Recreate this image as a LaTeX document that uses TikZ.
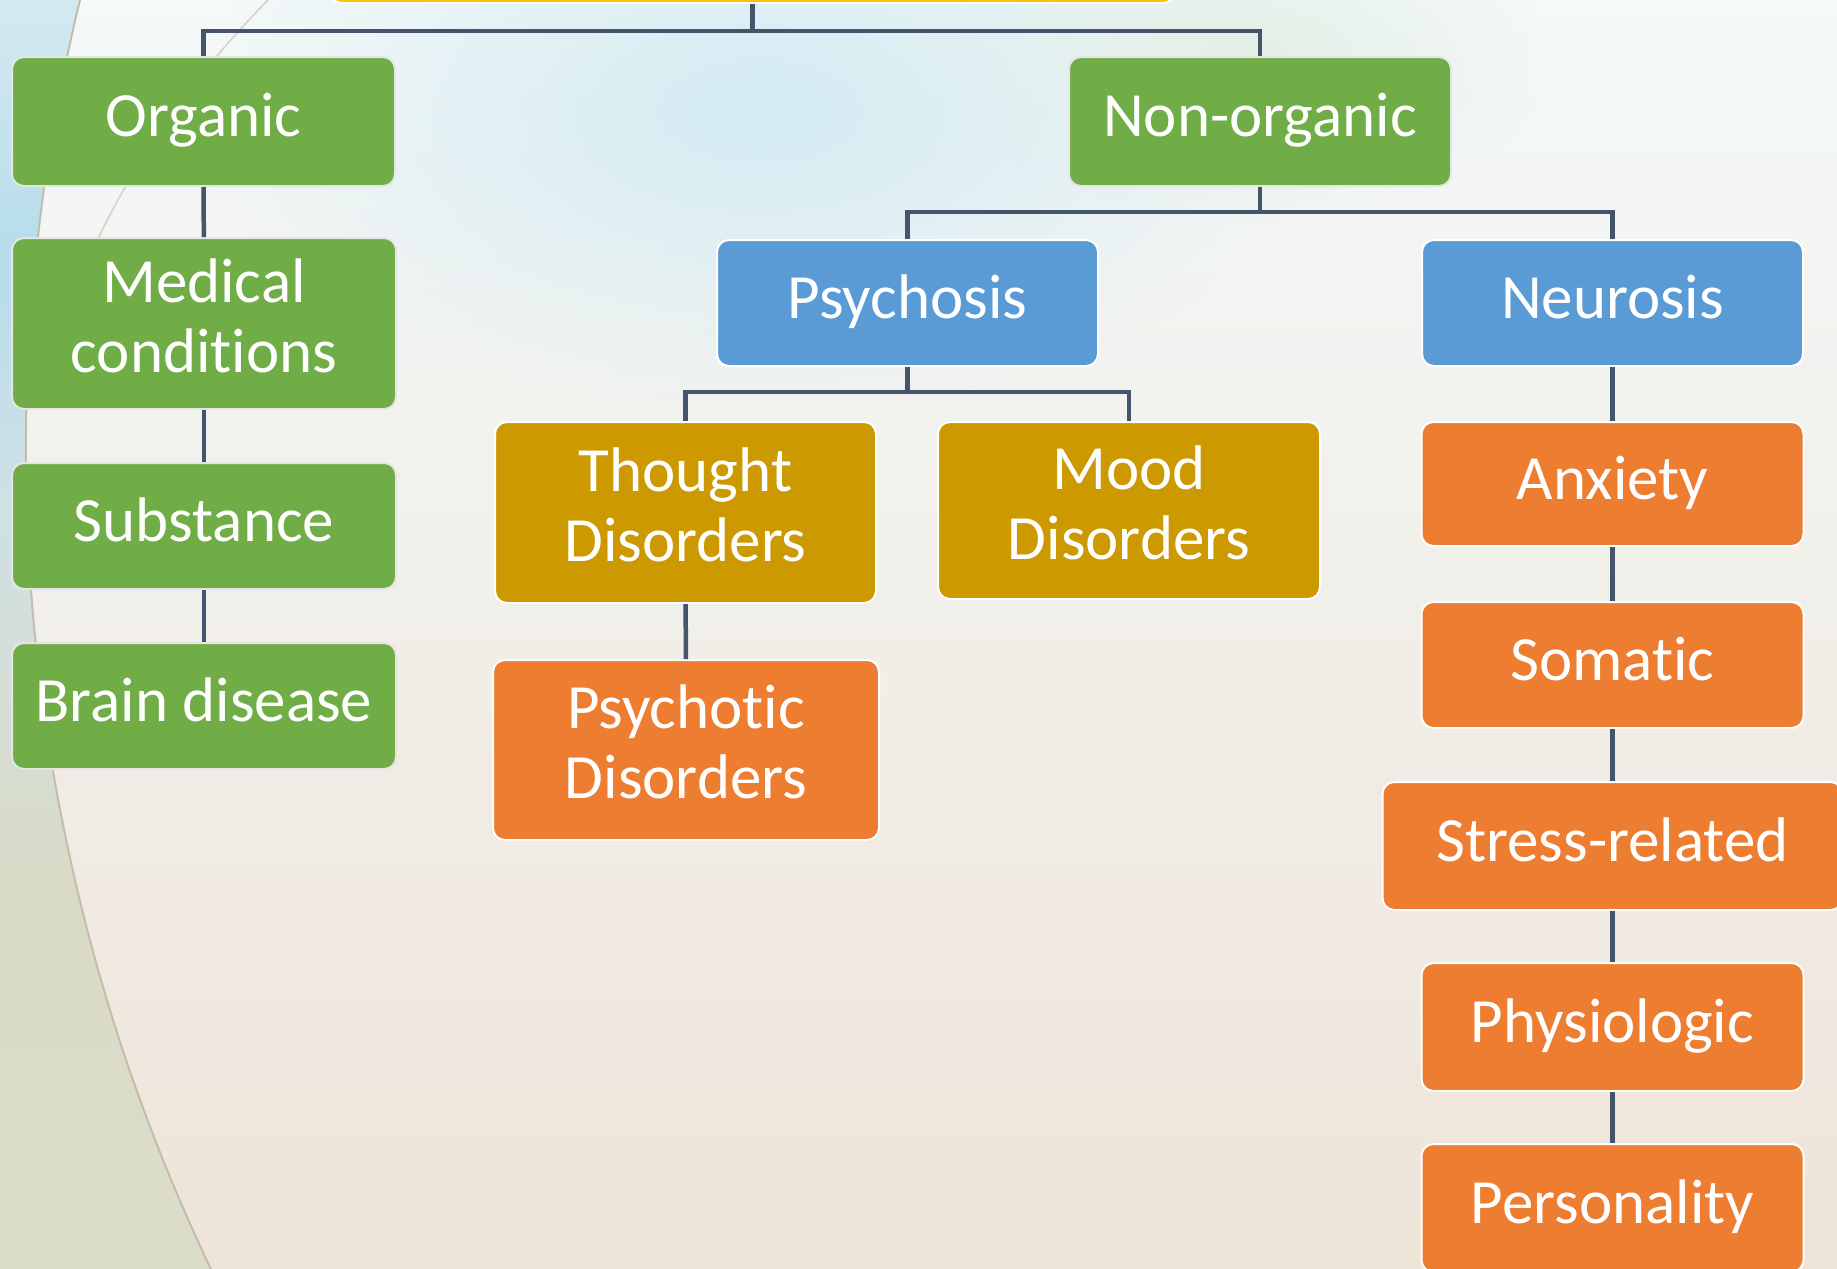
\documentclass[tikz,border=0pt]{standalone}
\usepackage{fontspec}
\setmainfont{Carlito}[RawFeature={-liga;-calt;-dlig}]
\usetikzlibrary{fadings}
\tikzfading[name=glowfade, inner color=transparent!0, outer color=transparent!100]
\definecolor{cgreen}{HTML}{70AD47}
\definecolor{cblue}{HTML}{5B9BD5}
\definecolor{cgold}{HTML}{CC9900}
\definecolor{corange}{HTML}{ED7D31}
\definecolor{cyellow}{HTML}{FFC000}
\definecolor{cline}{HTML}{44546A}
\definecolor{bgtop}{HTML}{F4F9F9}
\definecolor{bgmid}{HTML}{F2F1EA}
\definecolor{bgbot}{HTML}{EEE4D8}
\definecolor{cglow}{HTML}{D3EBF3}
\definecolor{cglowB}{HTML}{E3EFE6}
\definecolor{lsA}{HTML}{DFE3D0}
\definecolor{lsB}{HTML}{D9DAC6}
\definecolor{lsC}{HTML}{CFE1E4}
\definecolor{lsD}{HTML}{B6DCEB}
\definecolor{lsE}{HTML}{DCEEF2}
\definecolor{lsF}{HTML}{F3F1E4}
\definecolor{lsG}{HTML}{F6F3E6}
\definecolor{carc}{HTML}{C4BCAC}
\pgfdeclareverticalshading{leftsh}{100bp}{color(0bp)=(lsA); color(40bp)=(lsB); color(55bp)=(lsC); color(65bp)=(lsD); color(78bp)=(lsE); color(90bp)=(lsF); color(100bp)=(lsG)}
\newcommand\padA{\rule[-13pt]{0pt}{13pt}}
\newcommand\padB{\rule[-16pt]{0pt}{16pt}}
\begin{document}
\begin{tikzpicture}[x=1pt,y=-1pt,
  box/.style={draw=white, line width=2pt, rounded corners=12pt, text=white,
    align=center, inner sep=0pt, font=\fontsize{63}{70}\selectfont},
  gbox/.style={box, draw=black!10, fill=cgreen},
  link/.style={draw=cline, line width=4.5pt}]
\useasboundingbox (0,0) rectangle (1837,1269);
\begin{scope}
\clip (0,0) rectangle (1837,1269);
% background
\shade[top color=bgtop, middle color=bgmid, bottom color=bgbot] (0,0) rectangle (1837,1269);
\fill[cglow, path fading=glowfade] (760,110) ellipse [x radius=560pt, y radius=300pt];
\fill[cglowB, path fading=glowfade] (1250,60) ellipse [x radius=300pt, y radius=160pt];
\shade[shading=leftsh] (0,0) -- (80,0) arc[start angle=193.7, end angle=154.5, radius=1903] -- (0,1269) -- cycle;
\draw[carc, line width=2pt] (80,0) arc[start angle=193.7, end angle=154.5, radius=1903];
\draw[carc!70, line width=1.5pt] (268,0) .. controls (180,90) and (110,190) .. (55,340);

% nodes
\node[box, fill=cyellow, minimum width=845pt, minimum height=80pt] (root) at (752.5,-37) {};
\node[gbox, minimum width=383pt, minimum height=129pt] (organic) at (203.5,121.5) {Organic\padA};
\node[gbox, minimum width=384pt, minimum height=171pt] (medical) at (204,323.5) {Medical\\conditions\padB};
\node[gbox, minimum width=384pt, minimum height=126pt] (substance) at (204,526) {Substance\padA};
\node[gbox, minimum width=384pt, minimum height=126pt] (brain) at (204,706) {Brain disease\padA};
\node[gbox, minimum width=382pt, minimum height=129pt] (nonorganic) at (1260,121.5) {Non-organic\padA};
\node[box, fill=cblue, minimum width=381pt, minimum height=126pt] (psychosis) at (907.5,303) {Psychosis\padA};
\node[box, fill=cblue, minimum width=381pt, minimum height=126pt] (neurosis) at (1612.5,303) {Neurosis\padA};
\node[box, fill=cgold, minimum width=381pt, minimum height=181pt] (thought) at (685.5,512.5) {Thought\\Disorders\padB};
\node[box, fill=cgold, minimum width=382pt, minimum height=177pt] (mood) at (1129,510.5) {Mood\\Disorders\padB};
\node[box, fill=corange, minimum width=386pt, minimum height=180pt] (psychotic) at (686,750) {Psychotic\\Disorders\padB};
\node[box, fill=corange, minimum width=382pt, minimum height=124pt] (anxiety) at (1612.5,484) {Anxiety\padA};
\node[box, fill=corange, minimum width=382pt, minimum height=126pt] (somatic) at (1612.5,665) {Somatic\padA};
\node[box, fill=corange, minimum width=460pt, minimum height=128pt] (stress) at (1612.5,846) {Stress-related\padA};
\node[box, fill=corange, minimum width=382pt, minimum height=128pt] (physio) at (1612.5,1027) {Physiologic\padA};
\node[box, fill=corange, minimum width=382pt, minimum height=128pt] (person) at (1612.5,1208) {Personality\padA};

% connectors
\coordinate (j1) at (752.5,31);
\coordinate (j2) at (1260,212);
\coordinate (j3) at (907.5,392);
\draw[link] (root.south) -- (j1);
\draw[link] (organic.north) |- (j1) -| (nonorganic.north);
\draw[link] (nonorganic.south) -- (j2);
\draw[link] (psychosis.north) |- (j2) -| (neurosis.north);
\draw[link] (psychosis.south) -- (j3);
\draw[link] (thought.north) |- (j3) -| (mood.north);
\draw[link] (organic) -- (medical);
\draw[link] (medical) -- (substance);
\draw[link] (substance) -- (brain);
\draw[link] (thought) -- (psychotic);
\draw[link] (neurosis) -- (anxiety);
\draw[link] (anxiety) -- (somatic);
\draw[link] (somatic) -- (stress);
\draw[link] (stress) -- (physio);
\draw[link] (physio) -- (person);
\end{scope}
\end{tikzpicture}
\end{document}
